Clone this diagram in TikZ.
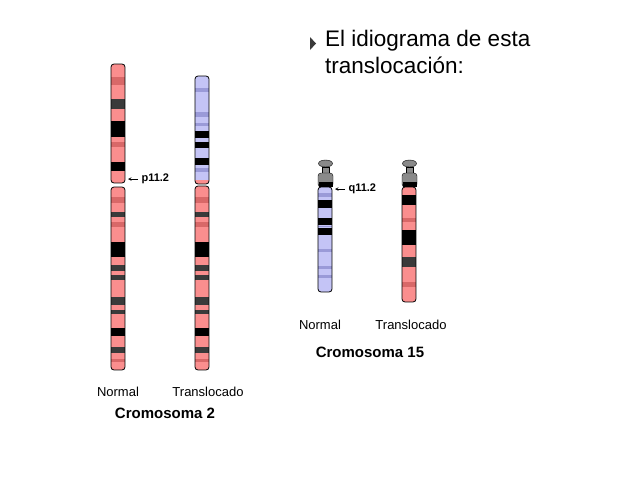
\documentclass[tikz,border=0pt]{standalone}
\usepackage{fontspec}
\setmainfont{Liberation Sans}
\usetikzlibrary{positioning}
\definecolor{rosa}{HTML}{FA8E8E}
\definecolor{rosaosc}{HTML}{D86868}
\definecolor{azul}{HTML}{C4C4F6}
\definecolor{azulosc}{HTML}{9A9AD8}
\definecolor{gris}{HTML}{3A3A3A}
\definecolor{satel}{HTML}{8A8A8A}
% one arm: x-left, top, bottom, fill, bands (y1/y2/colour)
\newcommand{\brazo}[5]{%
  \begin{scope}
    \clip[rounded corners=3] (#1,#2) rectangle ++(14,#3-#2);
    \fill[#4] (#1,#2) rectangle ++(14,#3-#2);
    \foreach \ya/\yb/\cb in {#5} \fill[\cb] (#1,\ya) rectangle (#1+14,\yb);
  \end{scope}
  \draw[thick,rounded corners=3] (#1,#2) rectangle ++(14,#3-#2);}
\begin{document}
\begin{tikzpicture}[x=1pt,y=-1pt, lbl/.style={font=\fontsize{13}{15}\selectfont},
  ttl/.style={font=\bfseries\fontsize{15}{17}\selectfont},
  band/.style={font=\bfseries\fontsize{11}{12}\selectfont, anchor=west}]
\useasboundingbox (0,0) rectangle (638,479);
% bullet text
\fill[gris] (310,37) -- (316,43.5) -- (310,50) -- cycle;
\node[anchor=north west, align=left, font=\fontsize{22.5}{27}\selectfont, inner sep=0] (txt) at (325,30) {El idiograma de esta\\translocación:};
% cromosoma 2, normal
\brazo{111}{64}{183}{rosa}{77/85/rosaosc,99/109/gris,121/137/black,142/147/rosaosc,162/171/black}
\brazo{111}{187}{370}{rosa}{197/203/rosaosc,212/217/gris,222/227/rosaosc,242/257/black,265/271/gris,275/280/gris,297/305/gris,310/314/gris,328/336/black,347/353/gris,359/362/rosaosc}
% cromosoma 2, translocado
\brazo{195}{76}{184}{azul}{88/92/azulosc,112/117/azulosc,123/126/azulosc,131/138/black,142/148/black,158/165/black,168/172/azulosc,180/184/rosa}
\brazo{195}{186}{370}{rosa}{197/203/rosaosc,212/217/gris,222/227/rosaosc,242/257/black,265/271/gris,275/280/gris,297/305/gris,310/314/gris,328/336/black,347/353/gris,359/362/rosaosc}
\coordinate (p2) at (128,179);
\node[band] (p112) at (138,179) {p11.2};
\draw[->, >=stealth, semithick] (p112.west) -- (p2);
\node[lbl] (n2) at (118,392) {Normal};
\node[lbl] (t2) at (208,392) {Translocado};
\node[ttl] (c2) at (165,413) {Cromosoma 2};
% cromosoma 15
\foreach \xx in {318,402} {
  \draw[fill=satel] (\xx+7.5,163.5) ellipse (7 and 3.5);
  \draw[fill=satel] (\xx+4,167) rectangle (\xx+11,173);
  \draw[fill=satel, rounded corners=3] (\xx,173) rectangle (\xx+15,187);
  \fill[black] (\xx+0.5,182) rectangle (\xx+14.5,187);
}
\brazo{318}{187}{292}{azul}{193/197/azulosc,200/208/black,218/225/black,226/227/azulosc,228/235/black,249/252/azulosc,266/269/azulosc,275/278/azulosc}
\brazo{402}{187}{302}{rosa}{195/205/black,218/222/rosaosc,230/245/black,257/267/gris,282/287/rosaosc}
\coordinate (q15) at (335,189);
\node[band] (q112) at (345,189) {q11.2};
\draw[->, >=stealth, semithick] (q112.west) -- (q15);
\node[lbl] (n15) at (320,325) {Normal};
\node[lbl] (t15) at (411,325) {Translocado};
\node[ttl] (c15) at (370,352) {Cromosoma 15};
\end{tikzpicture}
\end{document}
